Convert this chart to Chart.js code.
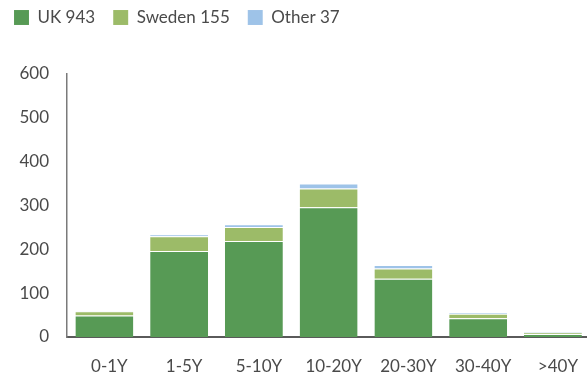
<!DOCTYPE html>
<html>
<head>
<meta charset="utf-8">
<script src="https://cdn.jsdelivr.net/npm/chart.js@4/dist/chart.umd.min.js"></script>
<style>
  html, body { margin: 0; padding: 0; background: #fff; overflow: hidden; }
  #wrap { width: 592px; height: 378px; }
</style>
</head>
<body>
<div id="wrap"><canvas id="maturityChart" width="592" height="378"></canvas></div>
<script>
const buckets = ["0-1Y", "1-5Y", "5-10Y", "10-20Y", "20-30Y", "30-40Y", ">40Y"];
const ukValues = [49, 196, 219, 296, 133, 43, 7];
const swedenValues = [10, 34, 32, 43, 23, 10, 3];
const otherValues = [1, 4, 6, 11, 8, 4, 3];
const seriesNames = ["UK 943", "Sweden 155", "Other 37"];
const yTicks = [0, 100, 200, 300, 400, 500, 600];

const textColor = "#4a4a4a";
Chart.defaults.font.family = "Lato, 'Open Sans', sans-serif";
Chart.defaults.color = textColor;

const segBorder = "rgba(255,255,255,0.25)";
const legendPad = 18;

// fixed legend band height and offset of the legend row
const legendPlacement = {
  id: "legendPlacement",
  afterInit(chart) {
    const legend = chart.legend;
    const fit = legend.fit;
    legend.fit = function () {
      fit.call(this);
      this.height = 74;
    };
  },
  afterLayout(chart) {
    chart.legend.left = 14 - legendPad;
    chart.legend.top = 9 - legendPad;
  },
};

new Chart(document.getElementById("maturityChart"), {
  type: "bar",
  data: {
    labels: buckets,
    datasets: [
      { label: seriesNames[0], data: ukValues, backgroundColor: "#579a55", borderColor: segBorder, borderWidth: { top: 1 }, borderSkipped: false },
      { label: seriesNames[1], data: swedenValues, backgroundColor: "#9cbb68", borderColor: segBorder, borderWidth: { top: 1 }, borderSkipped: false },
      { label: seriesNames[2], data: otherValues, backgroundColor: "#9ec3e8", borderColor: segBorder, borderWidth: { top: 1 }, borderSkipped: false },
    ],
  },
  options: {
    responsive: false,
    animation: false,
    layout: { padding: 0 },
    datasets: {
      bar: { categoryPercentage: 1, barPercentage: 0.775 },
    },
    scales: {
      x: {
        stacked: true,
        grid: { display: false, drawTicks: false },
        border: { display: true, color: "#5a5a5a", width: 2 },
        ticks: { font: { size: 17 }, padding: 19, labelOffset: 5, color: textColor },
        afterFit(scale) { scale.height = 41; },
      },
      y: {
        stacked: true,
        min: 0,
        max: 600,
        afterBuildTicks(scale) { scale.ticks = yTicks.map(v => ({ value: v })); },
        grid: { display: false, drawTicks: false },
        border: { display: true, color: "#7a7a7a", width: 1.5 },
        ticks: { font: { size: 17 }, padding: 18, color: textColor },
        afterFit(scale) { scale.width = 67; },
      },
    },
    plugins: {
      legend: {
        position: "top",
        align: "start",
        labels: {
          boxWidth: 15,
          boxHeight: 15,
          padding: legendPad,
          font: { size: 17 },
          color: textColor,
        },
      },
      tooltip: { enabled: false },
    },
  },
  plugins: [legendPlacement],
});
</script>
</body>
</html>
